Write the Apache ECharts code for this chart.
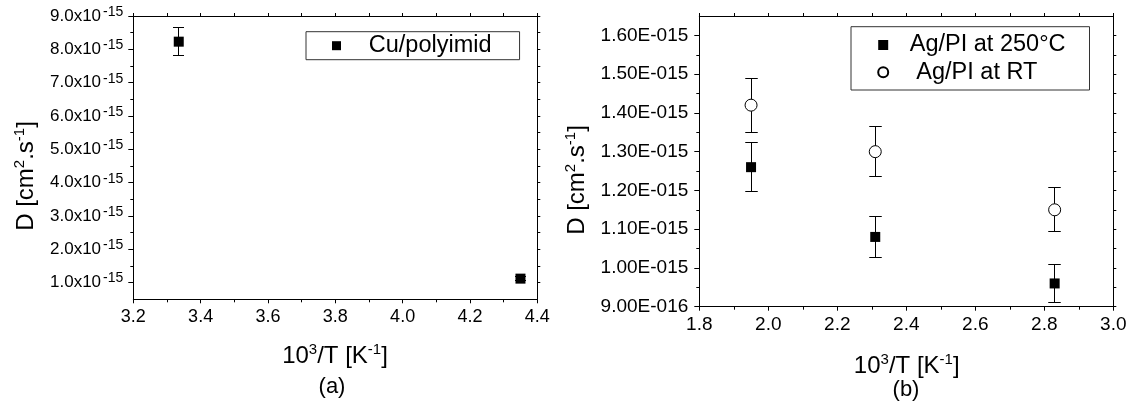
<!DOCTYPE html>
<html>
<head>
<meta charset="utf-8">
<script src="https://cdn.jsdelivr.net/npm/echarts@6/dist/echarts.min.js"></script>
<style>
html,body{margin:0;padding:0;background:#fff;}
#c{width:1130px;height:404px;}
</style>
</head>
<body>
<div id="c"></div>
<script>
// ---- data (units: 1e-15 cm^2/s) ----
const cuX = [3.335, 4.35];
const cuY = [8.23, 1.12];
const cuErr = [0.42, 0.05];

const agX = [1.95, 2.31, 2.83];
const ag250Y = [1.26, 1.08, 0.96];
const ag250Err = [0.063, 0.054, 0.048];
const agRTY = [1.42, 1.30, 1.15];
const agRTErr = [0.07, 0.065, 0.057];

const leftYTicks = [1, 2, 3, 4, 5, 6, 7, 8, 9];
const leftYMantissa = ['1.0', '2.0', '3.0', '4.0', '5.0', '6.0', '7.0', '8.0', '9.0'];
const leftYExp = '-15';
const leftYMinor = [1.5, 2.5, 3.5, 4.5, 5.5, 6.5, 7.5, 8.5];

const rightYTicks = [0.9, 1.0, 1.1, 1.2, 1.3, 1.4, 1.5, 1.6];
const rightYLabels = ['9.00E-016', '1.00E-015', '1.10E-015', '1.20E-015', '1.30E-015', '1.40E-015', '1.50E-015', '1.60E-015'];
const rightYMinor = [0.95, 1.05, 1.15, 1.25, 1.35, 1.45, 1.55];

const seriesNames = ['Cu/polyimid', 'Ag/PI at 250°C', ' Ag/PI at RT'];

// ---- build ----
const FONT = '"Liberation Sans", Arial, sans-serif';
const zip3 = (a, b, c) => a.map((v, i) => [v, b[i], c[i]]);
const zip2 = (a, b) => a.map((v, i) => [v, b[i]]);
const px = v => Math.round(v - 0.5) + 0.5;

function errRender(capW) {
  return function (params, api) {
    const x = api.value(0), y = api.value(1), e = api.value(2);
    const t = api.coord([x, y + e]);
    const b = api.coord([x, y - e]);
    const h = capW / 2;
    const cx = px(t[0]), ty = px(t[1]), by = px(b[1]);
    const st = { stroke: '#000', lineWidth: 1 };
    return {
      type: 'group',
      children: [
        { type: 'line', shape: { x1: cx, y1: ty, x2: cx, y2: by }, style: st },
        { type: 'line', shape: { x1: cx - h, y1: ty, x2: cx + h, y2: ty }, style: st },
        { type: 'line', shape: { x1: cx - h, y1: by, x2: cx + h, y2: by }, style: st }
      ]
    };
  };
}

const near = (arr, v) => arr.findIndex(a => Math.abs(a - v) < 1e-9);
const axisLine = { show: true, lineStyle: { color: '#000', width: 1 } };
const allLeft = leftYTicks.concat(leftYMinor);
const allRight = rightYTicks.concat(rightYMinor);
const titleRich = {
  n: { fontSize: 24, lineHeight: 28, fontFamily: FONT, fill: '#000' },
  s: { fontSize: 15, lineHeight: 15, verticalAlign: 'top', fontFamily: FONT, fill: '#000' }
};

const option = {
  animation: false,
  backgroundColor: '#fff',
  textStyle: { fontFamily: FONT, color: '#000' },
  grid: [
    { left: 133.3, right: 1130 - 537.3, top: 16, bottom: 404 - 299.3, outerBoundsMode: 'none' },
    { left: 699.3, right: 1130 - 1113.3, top: 16, bottom: 404 - 306.7, outerBoundsMode: 'none' }
  ],
  xAxis: [
    { gridIndex: 0, type: 'value', position: 'bottom', min: 3.2, max: 4.4, interval: 0.2,
      axisLine, splitLine: { show: false },
      axisTick: { show: true, length: 4, lineStyle: { color: '#000' } },
      minorTick: { show: true, splitNumber: 2, length: 3, lineStyle: { color: '#000' } },
      axisLabel: { fontSize: 18, color: '#000', fontFamily: FONT, margin: 9, formatter: v => v.toFixed(1) } },
    { gridIndex: 0, type: 'value', position: 'top', min: 3.2, max: 4.4, interval: 0.2,
      axisLine, splitLine: { show: false },
      axisTick: { show: true, length: 3, lineStyle: { color: '#000' } },
      minorTick: { show: true, splitNumber: 2, length: 3, lineStyle: { color: '#000' } },
      axisLabel: { show: false } },
    { gridIndex: 1, type: 'value', position: 'bottom', min: 1.8, max: 3.0, interval: 0.2,
      axisLine, splitLine: { show: false },
      axisTick: { show: true, length: 4, lineStyle: { color: '#000' } },
      minorTick: { show: true, splitNumber: 2, length: 3, lineStyle: { color: '#000' } },
      axisLabel: { fontSize: 19, color: '#000', fontFamily: FONT, margin: 9, formatter: v => v.toFixed(1) } },
    { gridIndex: 1, type: 'value', position: 'top', min: 1.8, max: 3.0, interval: 0.2,
      axisLine, splitLine: { show: false },
      axisTick: { show: true, length: 3, lineStyle: { color: '#000' } },
      minorTick: { show: true, splitNumber: 2, length: 3, lineStyle: { color: '#000' } },
      axisLabel: { show: false } }
  ],
  yAxis: [
    { gridIndex: 0, type: 'value', position: 'left', min: 0.5, max: 9,
      axisLine, splitLine: { show: false },
      axisTick: { show: true, length: 5, customValues: leftYTicks, lineStyle: { color: '#000' } },
      axisLabel: { customValues: leftYTicks, margin: 10, color: '#000', fontFamily: FONT,
        formatter: v => { const i = near(leftYTicks, v); return '{m|' + leftYMantissa[i] + 'x10}{s|' + leftYExp + '}'; },
        rich: { m: { fontSize: 17, lineHeight: 22, fontFamily: FONT, color: '#000' },
                s: { fontSize: 14, lineHeight: 14, verticalAlign: 'top', padding: [0, 0, 0, 2], fontFamily: FONT, color: '#000' } } } },
    { gridIndex: 0, type: 'value', position: 'right', min: 0.5, max: 9,
      axisLine, splitLine: { show: false },
      axisTick: { show: true, length: 3, customValues: allLeft, lineStyle: { color: '#000' } },
      axisLabel: { show: false } },
    { gridIndex: 0, type: 'value', position: 'left', min: 0.5, max: 9, offset: 0,
      axisLine: { show: false }, splitLine: { show: false },
      axisTick: { show: true, length: 3, customValues: leftYMinor, lineStyle: { color: '#000' } },
      axisLabel: { show: false } },
    { gridIndex: 1, type: 'value', position: 'left', min: 0.9, max: 1.65,
      axisLine, splitLine: { show: false },
      axisTick: { show: true, length: 5, customValues: rightYTicks, lineStyle: { color: '#000' } },
      axisLabel: { customValues: rightYTicks, margin: 11, fontSize: 19, color: '#000', fontFamily: FONT,
        formatter: v => rightYLabels[near(rightYTicks, v)] } },
    { gridIndex: 1, type: 'value', position: 'right', min: 0.9, max: 1.65,
      axisLine, splitLine: { show: false },
      axisTick: { show: true, length: 3, customValues: allRight, lineStyle: { color: '#000' } },
      axisLabel: { show: false } },
    { gridIndex: 1, type: 'value', position: 'left', min: 0.9, max: 1.65, offset: 0,
      axisLine: { show: false }, splitLine: { show: false },
      axisTick: { show: true, length: 3, customValues: rightYMinor, lineStyle: { color: '#000' } },
      axisLabel: { show: false } }
  ],
  legend: [
    { data: [seriesNames[0]], orient: 'vertical', left: 306, top: 31.7,
      padding: [2, 28, 2, 26], itemWidth: 9, itemHeight: 9, itemGap: 3,
      borderColor: '#333', borderWidth: 1, backgroundColor: '#fff',
      textStyle: { fontSize: 23.5, lineHeight: 24, color: '#000', fontFamily: FONT, padding: [0, 0, 0, 22.8] } },
    { data: [seriesNames[1], seriesNames[2]], orient: 'vertical', left: 851, top: 26.7,
      padding: [6.3, 24, 5.7, 26.2], itemWidth: 10, itemHeight: 10, itemGap: 3.3,
      borderColor: '#333', borderWidth: 1, backgroundColor: '#fff',
      textStyle: { fontSize: 23.5, lineHeight: 24, color: '#000', fontFamily: FONT, padding: [0, 0, 0, 16.6] } }
  ],
  series: [
    { type: 'custom', name: 'errCu', xAxisIndex: 0, yAxisIndex: 0, z: 1, silent: true,
      renderItem: errRender(11), data: zip3(cuX, cuY, cuErr) },
    { type: 'scatter', name: seriesNames[0], xAxisIndex: 0, yAxisIndex: 0, z: 3,
      symbol: 'rect', symbolSize: 10, itemStyle: { color: '#000', opacity: 1 }, data: zip2(cuX, cuY) },
    { type: 'custom', name: 'err250', xAxisIndex: 2, yAxisIndex: 3, z: 1, silent: true,
      renderItem: errRender(12.5), data: zip3(agX, ag250Y, ag250Err) },
    { type: 'custom', name: 'errRT', xAxisIndex: 2, yAxisIndex: 3, z: 1, silent: true,
      renderItem: errRender(12.5), data: zip3(agX, agRTY, agRTErr) },
    { type: 'scatter', name: seriesNames[1], xAxisIndex: 2, yAxisIndex: 3, z: 3,
      symbol: 'rect', symbolSize: 10, itemStyle: { color: '#000', opacity: 1 }, data: zip2(agX, ag250Y) },
    { type: 'scatter', name: seriesNames[2], xAxisIndex: 2, yAxisIndex: 3, z: 3,
      symbol: 'circle', symbolSize: 12, itemStyle: { color: '#fff', borderColor: '#000', borderWidth: 1, opacity: 1 },
      data: zip2(agX, agRTY) }
  ],
  graphic: [
    { type: 'text', x: 26, y: 176, rotation: Math.PI / 2,
      style: { text: '{n|D [cm}{s|2}{n|.s}{s|-1}{n|]}', align: 'center', verticalAlign: 'middle', rich: titleRich } },
    { type: 'text', x: 577, y: 180, rotation: Math.PI / 2,
      style: { text: '{n|D [cm}{s|2}{n|.s}{s|-1}{n|]}', align: 'center', verticalAlign: 'middle', rich: titleRich } },
    { type: 'text', x: 335, y: 356.7,
      style: { text: '{n|10}{s|3}{n|/T [K}{s|-1}{n|]}', align: 'center', verticalAlign: 'middle', rich: titleRich } },
    { type: 'text', x: 332, y: 386.7,
      style: { text: '(a)', align: 'center', verticalAlign: 'middle', fontSize: 22, fontFamily: FONT, fill: '#000' } },
    { type: 'text', x: 906.7, y: 366.7,
      style: { text: '{n|10}{s|3}{n|/T [K}{s|-1}{n|]}', align: 'center', verticalAlign: 'middle', rich: titleRich } },
    { type: 'text', x: 906, y: 390,
      style: { text: '(b)', align: 'center', verticalAlign: 'middle', fontSize: 22, fontFamily: FONT, fill: '#000' } }
  ]
};

const chart = echarts.init(document.getElementById('c'), null, { renderer: 'canvas' });
chart.setOption(option);
</script>
</body>
</html>
